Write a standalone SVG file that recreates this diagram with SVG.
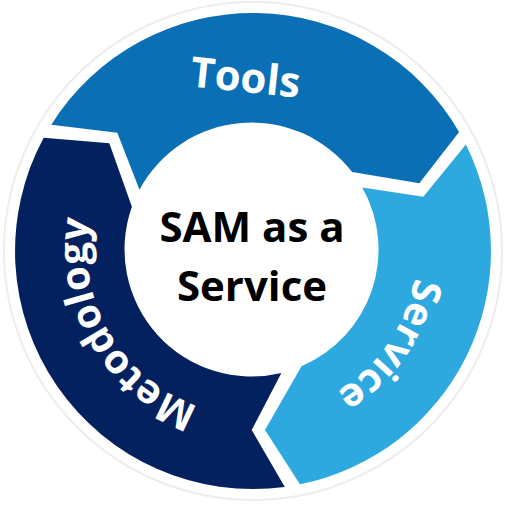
<svg xmlns="http://www.w3.org/2000/svg" width="505" height="505" viewBox="0 0 505 505">
  <style>
    .seg-label { font-family: "Open Sans", "Liberation Sans", sans-serif; font-weight: 700; fill: #ffffff; }
    .center-label { font-family: "Open Sans", "Liberation Sans", sans-serif; font-weight: 700; fill: #000000; font-size: 42px; text-anchor: middle; }
  </style>
  <defs>
    <path id="arcService" d="M367.6,132.3 A165,165 0 0 1 183.6,400.2" fill="none"/>
    <path id="arcMetodology" d="M309.2,404.8 A165,165 0 0 1 145.4,124.1" fill="none"/>
  </defs>
  <rect width="505" height="505" fill="#ffffff"/>
  <circle cx="253" cy="251" r="249" fill="none" stroke="#ededed" stroke-width="2"/>

  <g id="tools">
    <path d="M51.3,124.7 A238,238 0 0 1 459.1,131.9 L419.3,183.3 L352.2,172.1 A127,127 0 0 0 139.5,189.7 L117.3,132.7 Z" fill="#0B6FB5"/>
    <text class="seg-label" x="244" y="92" font-size="42" text-anchor="middle" transform="rotate(6 244 92)">Tools</text>
  </g>

  <g id="service">
    <path d="M465.9,144.6 A238,238 0 0 1 299.9,484.3 L265,430 L301.5,366.3 A127,127 0 0 0 362.3,187.4 L423.3,196.7 Z" fill="#2EA9E0"/>
    <text class="seg-label" font-size="40"><textPath href="#arcService" startOffset="50%" text-anchor="middle">Service</textPath></text>
  </g>

  <g id="metodology">
    <path d="M284.8,486.9 A238,238 0 0 1 43.7,137.8 L109.3,143.3 L131.9,206.8 A127,127 0 0 0 281.4,372.9 L251.7,430 Z" fill="#04215F"/>
    <text class="seg-label" font-size="40"><textPath href="#arcMetodology" startOffset="50%" text-anchor="middle">Metodology</textPath></text>
  </g>

  <g id="center">
    <text class="center-label" x="252" y="242">SAM as a</text>
    <text class="center-label" x="252" y="301">Service</text>
  </g>

  <g id="connectors"></g>
</svg>
